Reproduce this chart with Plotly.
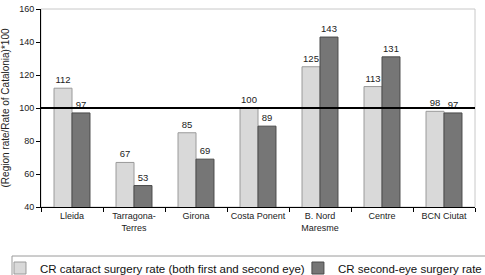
import plotly.graph_objects as go

categories = ["Lleida", "Tarragona-<br>Terres", "Girona", "Costa Ponent", "B. Nord<br>Maresme", "Centre", "BCN Ciutat"]
cr_cataract = [112, 67, 85, 100, 125, 113, 98]
cr_second_eye = [97, 53, 69, 89, 143, 131, 97]
y_ticks = [40, 60, 80, 100, 120, 140, 160]
reference_value = 100

FONT = "Arial, Liberation Sans, sans-serif"

fig = go.Figure()
fig.add_trace(go.Bar(
    x=categories, y=cr_cataract,
    name="CR cataract surgery rate (both first and second eye)",
    marker=dict(color="#d9d9d9", line=dict(color="#9a9a9a", width=1)),
    text=cr_cataract, textposition="outside", cliponaxis=False,
    textfont=dict(size=9.5, color="#222222", family=FONT),
    legend="legend",
))
fig.add_trace(go.Bar(
    x=categories, y=cr_second_eye,
    name="CR second-eye surgery rate",
    marker=dict(color="#767676", line=dict(color="#4a4a4a", width=1)),
    text=cr_second_eye, textposition="outside", cliponaxis=False,
    textfont=dict(size=9.5, color="#222222", family=FONT),
    legend="legend2",
))

# plot frame (light grey) and legend box
fig.add_shape(type="rect", xref="paper", yref="paper", x0=0, x1=1, y0=0, y1=1,
              line=dict(color="#c8c8c8", width=1), layer="below")
fig.add_shape(type="rect", xref="paper", yref="paper", x0=-0.0668, x1=1.05,
              y0=-0.2475, y1=-0.45, line=dict(color="#9a9a9a", width=1), layer="below")
fig.add_shape(type="line", xref="paper", yref="y", x0=0, x1=1,
              y0=reference_value, y1=reference_value,
              line=dict(color="black", width=2))

legend_common = dict(orientation="h", xanchor="left", yanchor="top", borderwidth=0,
                     bgcolor="rgba(0,0,0,0)", font=dict(size=11.5, color="#111111"),
                     itemwidth=30)

fig.update_layout(
    width=485, height=275,
    margin=dict(l=41, r=10, t=9, b=68, autoexpand=False),
    paper_bgcolor="white", plot_bgcolor="white",
    font=dict(family=FONT, size=10, color="#222222"),
    barmode="group", bargap=0.42, bargroupgap=0,
    showlegend=True,
    legend=dict(x=-0.0945, y=-0.235, **legend_common),
    legend2=dict(x=0.592, y=-0.235, **legend_common),
    xaxis=dict(showline=True, linecolor="black", linewidth=1, ticks="outside",
               tickson="boundaries", ticklen=4, tickcolor="black", tickangle=0,
               showgrid=False, tickfont=dict(size=9)),
    yaxis=dict(range=[40, 160], tickvals=y_ticks, showline=True, linecolor="black",
               linewidth=1, ticks="outside", ticklen=4, tickcolor="black",
               showgrid=False, zeroline=False, tickfont=dict(size=9),
               title=dict(text="(Region rate/Rate of Catalonia)*100", font=dict(size=10),
                          standoff=8)),
)

fig.write_html("out.html")
